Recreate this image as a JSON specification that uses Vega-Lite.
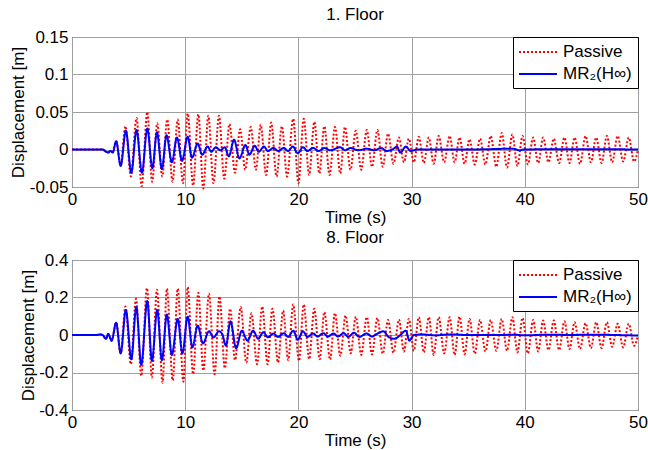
{
  "$schema": "https://vega.github.io/schema/vega-lite/v6.json",
  "padding": {"left": 9, "top": 5, "right": 0, "bottom": 0},
  "spacing": 2,
  "config": {
    "font": "Liberation Sans",
    "view": {"stroke": "black", "strokeWidth": 1},
    "axis": {"labelFontSize": 17, "titleFontSize": 17, "labelColor": "black", "titleColor": "black", "titleFontWeight": "normal", "grid": true, "gridColor": "#a0a0a0", "gridWidth": 1, "domain": false, "ticks": false, "labelFlush": false, "labelOverlap": false},
    "axisX": {"labelPadding": 4, "titlePadding": 2},
    "axisY": {"labelPadding": 4, "titlePadding": 1.5},
    "title": {"fontSize": 17, "fontWeight": "normal", "color": "black", "offset": 0},
    "legend": {"orient": "top-right", "offset": 0, "strokeColor": "black", "fillColor": "white", "padding": 6, "labelFontSize": 17, "labelColor": "black", "symbolType": "M-2.375,0L2.375,0", "symbolSize": 256, "symbolOffset": 10, "labelOffset": 16, "symbolStrokeWidth": 2, "rowPadding": 5, "cornerRadius": 0}
  },
  "resolve": {"legend": {"color": "independent", "strokeDash": "independent"}, "scale": {"y": "independent", "x": "independent"}},
  "vconcat": [
    {
      "width": 566, "height": 150,
      "title": "1. Floor",
      "data": {"values": [
        {"s":"Passive","t":0,"v":0},{"s":"Passive","t":2.6,"v":0},{"s":"Passive","t":3.0,"v":-0.002},{"s":"Passive","t":3.3,"v":-0.004},{"s":"Passive","t":3.6,"v":-0.002},{"s":"Passive","t":3.9,"v":0.011},{"s":"Passive","t":4.3,"v":-0.02},
        {"s":"Passive","t":4.72,"v":0.031},{"s":"Passive","t":5.2,"v":-0.036},{"s":"Passive","t":5.7,"v":0.042},{"s":"Passive","t":6.15,"v":-0.049},{"s":"Passive","t":6.65,"v":0.05},{"s":"Passive","t":7.08,"v":-0.043},{"s":"Passive","t":7.53,"v":0.035},{"s":"Passive","t":7.97,"v":-0.036},{"s":"Passive","t":8.41,"v":0.04},{"s":"Passive","t":8.88,"v":-0.043},{"s":"Passive","t":9.34,"v":0.04},{"s":"Passive","t":9.8,"v":-0.045},
        {"s":"Passive","t":10.22,"v":0.048},{"s":"Passive","t":10.7,"v":-0.048},{"s":"Passive","t":11.16,"v":0.047},{"s":"Passive","t":11.6,"v":-0.052},{"s":"Passive","t":12.04,"v":0.045},{"s":"Passive","t":12.5,"v":-0.045},{"s":"Passive","t":12.98,"v":0.045},{"s":"Passive","t":13.45,"v":-0.039},{"s":"Passive","t":13.91,"v":0.034},{"s":"Passive","t":14.4,"v":-0.031},{"s":"Passive","t":14.85,"v":0.027},{"s":"Passive","t":15.3,"v":-0.027},{"s":"Passive","t":15.79,"v":0.03},{"s":"Passive","t":16.25,"v":-0.027},{"s":"Passive","t":16.67,"v":0.033},{"s":"Passive","t":17.15,"v":-0.034},{"s":"Passive","t":17.6,"v":0.036},{"s":"Passive","t":18.07,"v":-0.036},{"s":"Passive","t":18.54,"v":0.031},{"s":"Passive","t":19.0,"v":-0.036},{"s":"Passive","t":19.54,"v":0.041},
        {"s":"Passive","t":20.0,"v":-0.045},{"s":"Passive","t":20.47,"v":0.041},{"s":"Passive","t":20.95,"v":-0.034},{"s":"Passive","t":21.41,"v":0.037},{"s":"Passive","t":21.85,"v":-0.032},{"s":"Passive","t":22.29,"v":0.031},{"s":"Passive","t":22.75,"v":-0.034},{"s":"Passive","t":23.23,"v":0.03},{"s":"Passive","t":23.7,"v":-0.032},{"s":"Passive","t":24.11,"v":0.03},{"s":"Passive","t":24.6,"v":-0.027},{"s":"Passive","t":25.07,"v":0.025},{"s":"Passive","t":25.55,"v":-0.027},{"s":"Passive","t":26.04,"v":0.026},{"s":"Passive","t":26.5,"v":-0.023},{"s":"Passive","t":26.98,"v":0.026},{"s":"Passive","t":27.45,"v":-0.023},{"s":"Passive","t":27.92,"v":0.021},{"s":"Passive","t":28.4,"v":-0.019},{"s":"Passive","t":28.88,"v":0.016},{"s":"Passive","t":29.32,"v":-0.017},{"s":"Passive","t":29.76,"v":0.0145},
        {"s":"Passive","t":30.2,"v":-0.017},{"s":"Passive","t":30.64,"v":0.017},{"s":"Passive","t":31.08,"v":-0.018},{"s":"Passive","t":31.52,"v":0.016},{"s":"Passive","t":31.95,"v":-0.019},{"s":"Passive","t":32.39,"v":0.018},{"s":"Passive","t":32.88,"v":-0.017},{"s":"Passive","t":33.36,"v":0.018},{"s":"Passive","t":33.8,"v":-0.017},{"s":"Passive","t":34.24,"v":0.016},{"s":"Passive","t":34.68,"v":-0.019},{"s":"Passive","t":35.12,"v":0.0136},{"s":"Passive","t":35.58,"v":-0.02},{"s":"Passive","t":36.05,"v":0.0145},{"s":"Passive","t":36.52,"v":-0.02},{"s":"Passive","t":36.99,"v":0.018},{"s":"Passive","t":37.48,"v":-0.023},{"s":"Passive","t":37.96,"v":0.022},{"s":"Passive","t":38.43,"v":-0.024},{"s":"Passive","t":38.9,"v":0.02},{"s":"Passive","t":39.35,"v":-0.022},{"s":"Passive","t":39.8,"v":0.018},
        {"s":"Passive","t":40.27,"v":-0.02},{"s":"Passive","t":40.74,"v":0.016},{"s":"Passive","t":41.18,"v":-0.018},{"s":"Passive","t":41.62,"v":0.016},{"s":"Passive","t":42.09,"v":-0.017},{"s":"Passive","t":42.56,"v":0.0145},{"s":"Passive","t":43.03,"v":-0.018},{"s":"Passive","t":43.5,"v":0.016},{"s":"Passive","t":43.95,"v":-0.018},{"s":"Passive","t":44.4,"v":0.016},{"s":"Passive","t":44.88,"v":-0.019},{"s":"Passive","t":45.37,"v":0.018},{"s":"Passive","t":45.84,"v":-0.017},{"s":"Passive","t":46.31,"v":0.016},{"s":"Passive","t":46.78,"v":-0.018},{"s":"Passive","t":47.25,"v":0.018},{"s":"Passive","t":47.72,"v":-0.017},{"s":"Passive","t":48.2,"v":0.018},{"s":"Passive","t":48.69,"v":-0.016},{"s":"Passive","t":49.18,"v":0.016},{"s":"Passive","t":49.65,"v":-0.016},{"s":"Passive","t":50,"v":0},
        {"s":"MR₂(H∞)","t":0,"v":0},{"s":"MR₂(H∞)","t":2.7,"v":0},{"s":"MR₂(H∞)","t":3.0,"v":-0.003},{"s":"MR₂(H∞)","t":3.2,"v":-0.004},{"s":"MR₂(H∞)","t":3.4,"v":-0.002},{"s":"MR₂(H∞)","t":3.6,"v":-0.004},{"s":"MR₂(H∞)","t":3.9,"v":0.011},{"s":"MR₂(H∞)","t":4.3,"v":-0.022},{"s":"MR₂(H∞)","t":4.76,"v":0.025},{"s":"MR₂(H∞)","t":5.24,"v":-0.031},{"s":"MR₂(H∞)","t":5.7,"v":0.026},{"s":"MR₂(H∞)","t":6.18,"v":-0.031},{"s":"MR₂(H∞)","t":6.65,"v":0.028},{"s":"MR₂(H∞)","t":7.1,"v":-0.025},{"s":"MR₂(H∞)","t":7.5,"v":0.023},{"s":"MR₂(H∞)","t":7.94,"v":-0.026},{"s":"MR₂(H∞)","t":8.35,"v":0.019},{"s":"MR₂(H∞)","t":8.82,"v":-0.017},{"s":"MR₂(H∞)","t":9.27,"v":0.016},{"s":"MR₂(H∞)","t":9.72,"v":-0.015},
        {"s":"MR₂(H∞)","t":10.22,"v":0.017},{"s":"MR₂(H∞)","t":10.6,"v":-0.011},{"s":"MR₂(H∞)","t":11.1,"v":0.008},{"s":"MR₂(H∞)","t":11.5,"v":-0.007},{"s":"MR₂(H∞)","t":11.98,"v":0.004},{"s":"MR₂(H∞)","t":12.3,"v":-0.003},{"s":"MR₂(H∞)","t":12.7,"v":0.003},{"s":"MR₂(H∞)","t":13.1,"v":-0.001},{"s":"MR₂(H∞)","t":13.5,"v":0.003},{"s":"MR₂(H∞)","t":13.85,"v":-0.009},{"s":"MR₂(H∞)","t":14.32,"v":0.013},{"s":"MR₂(H∞)","t":14.79,"v":-0.012},{"s":"MR₂(H∞)","t":15.32,"v":0.006},{"s":"MR₂(H∞)","t":15.67,"v":-0.007},{"s":"MR₂(H∞)","t":16.14,"v":0.005},{"s":"MR₂(H∞)","t":16.5,"v":-0.003},{"s":"MR₂(H∞)","t":16.96,"v":0.004},{"s":"MR₂(H∞)","t":17.3,"v":-0.002},{"s":"MR₂(H∞)","t":17.8,"v":0.002},{"s":"MR₂(H∞)","t":18.2,"v":-0.002},{"s":"MR₂(H∞)","t":18.7,"v":0.002},{"s":"MR₂(H∞)","t":19.1,"v":-0.002},{"s":"MR₂(H∞)","t":19.5,"v":0.004},{"s":"MR₂(H∞)","t":19.95,"v":-0.005},
        {"s":"MR₂(H∞)","t":20.4,"v":0.003},{"s":"MR₂(H∞)","t":20.8,"v":-0.002},{"s":"MR₂(H∞)","t":21.3,"v":0.002},{"s":"MR₂(H∞)","t":21.8,"v":-0.002},{"s":"MR₂(H∞)","t":22.3,"v":0.002},{"s":"MR₂(H∞)","t":22.8,"v":-0.001},{"s":"MR₂(H∞)","t":23.7,"v":0.003},{"s":"MR₂(H∞)","t":24.1,"v":-0.001},{"s":"MR₂(H∞)","t":24.6,"v":0.002},{"s":"MR₂(H∞)","t":25.3,"v":-0.001},{"s":"MR₂(H∞)","t":26.0,"v":0.001},{"s":"MR₂(H∞)","t":26.7,"v":-0.001},{"s":"MR₂(H∞)","t":27.3,"v":0.002},{"s":"MR₂(H∞)","t":27.8,"v":-0.002},{"s":"MR₂(H∞)","t":28.4,"v":0.001},{"s":"MR₂(H∞)","t":28.7,"v":0.004},{"s":"MR₂(H∞)","t":29.0,"v":-0.004},{"s":"MR₂(H∞)","t":29.5,"v":0.004},{"s":"MR₂(H∞)","t":29.9,"v":-0.002},{"s":"MR₂(H∞)","t":30.5,"v":0},{"s":"MR₂(H∞)","t":35,"v":0},{"s":"MR₂(H∞)","t":39,"v":0.001},{"s":"MR₂(H∞)","t":39.5,"v":-0.001},{"s":"MR₂(H∞)","t":40,"v":0},{"s":"MR₂(H∞)","t":45,"v":0.0005},{"s":"MR₂(H∞)","t":50,"v":0}
      ]},
      "encoding": {
        "x": {"field": "t", "type": "quantitative", "scale": {"domain": [0, 50], "nice": false}, "axis": {"title": "Time (s)", "values": [0, 10, 20, 30, 40, 50]}},
        "y": {"field": "v", "type": "quantitative", "scale": {"domain": [-0.05, 0.15], "nice": false}, "axis": {"title": "Displacement [m]", "values": [-0.05, 0, 0.05, 0.1, 0.15], "labelExpr": "datum.value < 0 ? '-' + format(-datum.value, '~g') : format(datum.value, '~g')"}},
        "color": {"field": "s", "type": "nominal", "scale": {"domain": ["Passive", "MR₂(H∞)"], "range": ["#ff0000", "#0000ff"]}, "legend": {"title": null}},
        "strokeDash": {"field": "s", "type": "nominal", "scale": {"domain": ["Passive", "MR₂(H∞)"], "range": [[2, 2], [1, 0]]}, "legend": {"title": null}}
      },
      "layer": [
        {"transform": [{"filter": "datum.s == 'Passive'"}], "mark": {"type": "line", "interpolate": "monotone", "strokeWidth": 2}},
        {"transform": [{"filter": "datum.s != 'Passive'"}], "mark": {"type": "line", "interpolate": "monotone", "strokeWidth": 2}}
      ]
    },
    {
      "width": 566, "height": 150,
      "title": "8. Floor",
      "data": {"values": [
        {"s":"Passive","t":0,"v":0},{"s":"Passive","t":2.2,"v":0},{"s":"Passive","t":2.4,"v":0.003},{"s":"Passive","t":2.7,"v":0},{"s":"Passive","t":3.0,"v":-0.02},{"s":"Passive","t":3.2,"v":0.005},{"s":"Passive","t":3.5,"v":-0.03},{"s":"Passive","t":3.9,"v":0.065},{"s":"Passive","t":4.3,"v":-0.098},
        {"s":"Passive","t":4.72,"v":0.152},{"s":"Passive","t":5.2,"v":-0.156},{"s":"Passive","t":5.65,"v":0.193},{"s":"Passive","t":6.12,"v":-0.218},{"s":"Passive","t":6.62,"v":0.25},{"s":"Passive","t":7.06,"v":-0.227},{"s":"Passive","t":7.5,"v":0.242},{"s":"Passive","t":8.0,"v":-0.254},{"s":"Passive","t":8.38,"v":0.247},{"s":"Passive","t":8.9,"v":-0.242},{"s":"Passive","t":9.34,"v":0.247},{"s":"Passive","t":9.84,"v":-0.249},
        {"s":"Passive","t":10.22,"v":0.256},{"s":"Passive","t":10.7,"v":-0.209},{"s":"Passive","t":11.16,"v":0.225},{"s":"Passive","t":11.6,"v":-0.19},{"s":"Passive","t":12.1,"v":0.22},{"s":"Passive","t":12.6,"v":-0.209},{"s":"Passive","t":13.03,"v":0.206},{"s":"Passive","t":13.5,"v":-0.177},{"s":"Passive","t":13.97,"v":0.14},{"s":"Passive","t":14.4,"v":-0.134},{"s":"Passive","t":14.9,"v":0.149},{"s":"Passive","t":15.4,"v":-0.147},{"s":"Passive","t":15.85,"v":0.116},{"s":"Passive","t":16.35,"v":-0.156},{"s":"Passive","t":16.8,"v":0.152},{"s":"Passive","t":17.28,"v":-0.156},{"s":"Passive","t":17.7,"v":0.14},{"s":"Passive","t":18.2,"v":-0.147},{"s":"Passive","t":18.65,"v":0.13},{"s":"Passive","t":19.1,"v":-0.134},{"s":"Passive","t":19.54,"v":0.163},
        {"s":"Passive","t":20.05,"v":-0.138},{"s":"Passive","t":20.47,"v":0.163},{"s":"Passive","t":20.95,"v":-0.129},{"s":"Passive","t":21.4,"v":0.14},{"s":"Passive","t":21.88,"v":-0.129},{"s":"Passive","t":22.29,"v":0.122},{"s":"Passive","t":22.8,"v":-0.131},{"s":"Passive","t":23.23,"v":0.116},{"s":"Passive","t":23.7,"v":-0.111},{"s":"Passive","t":24.17,"v":0.104},{"s":"Passive","t":24.62,"v":-0.098},{"s":"Passive","t":25.07,"v":0.098},{"s":"Passive","t":25.55,"v":-0.106},{"s":"Passive","t":26.04,"v":0.095},{"s":"Passive","t":26.5,"v":-0.104},{"s":"Passive","t":26.98,"v":0.091},{"s":"Passive","t":27.45,"v":-0.1},{"s":"Passive","t":27.92,"v":0.08},{"s":"Passive","t":28.4,"v":-0.095},{"s":"Passive","t":28.88,"v":0.082},{"s":"Passive","t":29.32,"v":-0.088},{"s":"Passive","t":29.76,"v":0.086},
        {"s":"Passive","t":30.2,"v":-0.084},{"s":"Passive","t":30.64,"v":0.095},{"s":"Passive","t":31.08,"v":-0.093},{"s":"Passive","t":31.52,"v":0.095},{"s":"Passive","t":31.95,"v":-0.106},{"s":"Passive","t":32.39,"v":0.095},{"s":"Passive","t":32.88,"v":-0.098},{"s":"Passive","t":33.36,"v":0.095},{"s":"Passive","t":33.8,"v":-0.106},{"s":"Passive","t":34.24,"v":0.098},{"s":"Passive","t":34.68,"v":-0.102},{"s":"Passive","t":35.12,"v":0.086},{"s":"Passive","t":35.58,"v":-0.1},{"s":"Passive","t":36.05,"v":0.08},{"s":"Passive","t":36.52,"v":-0.088},{"s":"Passive","t":36.99,"v":0.08},{"s":"Passive","t":37.48,"v":-0.084},{"s":"Passive","t":37.96,"v":0.086},{"s":"Passive","t":38.43,"v":-0.084},{"s":"Passive","t":38.9,"v":0.095},{"s":"Passive","t":39.35,"v":-0.093},{"s":"Passive","t":39.8,"v":0.091},
        {"s":"Passive","t":40.27,"v":-0.098},{"s":"Passive","t":40.74,"v":0.08},{"s":"Passive","t":41.18,"v":-0.088},{"s":"Passive","t":41.62,"v":0.077},{"s":"Passive","t":42.09,"v":-0.08},{"s":"Passive","t":42.56,"v":0.077},{"s":"Passive","t":43.03,"v":-0.08},{"s":"Passive","t":43.5,"v":0.073},{"s":"Passive","t":43.95,"v":-0.075},{"s":"Passive","t":44.4,"v":0.068},{"s":"Passive","t":44.88,"v":-0.075},{"s":"Passive","t":45.37,"v":0.063},{"s":"Passive","t":45.84,"v":-0.07},{"s":"Passive","t":46.31,"v":0.068},{"s":"Passive","t":46.78,"v":-0.07},{"s":"Passive","t":47.25,"v":0.068},{"s":"Passive","t":47.72,"v":-0.063},{"s":"Passive","t":48.2,"v":0.06},{"s":"Passive","t":48.69,"v":-0.066},{"s":"Passive","t":49.18,"v":0.06},{"s":"Passive","t":49.65,"v":-0.057},{"s":"Passive","t":50,"v":0},
        {"s":"MR₂(H∞)","t":0,"v":0},{"s":"MR₂(H∞)","t":2.2,"v":0},{"s":"MR₂(H∞)","t":2.4,"v":0.003},{"s":"MR₂(H∞)","t":2.7,"v":0},{"s":"MR₂(H∞)","t":3.0,"v":-0.02},{"s":"MR₂(H∞)","t":3.2,"v":0.005},{"s":"MR₂(H∞)","t":3.5,"v":-0.03},{"s":"MR₂(H∞)","t":3.9,"v":0.065},{"s":"MR₂(H∞)","t":4.3,"v":-0.098},{"s":"MR₂(H∞)","t":4.76,"v":0.134},{"s":"MR₂(H∞)","t":5.24,"v":-0.129},{"s":"MR₂(H∞)","t":5.68,"v":0.149},{"s":"MR₂(H∞)","t":6.12,"v":-0.159},{"s":"MR₂(H∞)","t":6.65,"v":0.181},{"s":"MR₂(H∞)","t":7.06,"v":-0.138},{"s":"MR₂(H∞)","t":7.53,"v":0.134},{"s":"MR₂(H∞)","t":7.94,"v":-0.134},{"s":"MR₂(H∞)","t":8.38,"v":0.109},{"s":"MR₂(H∞)","t":8.82,"v":-0.106},{"s":"MR₂(H∞)","t":9.34,"v":0.086},{"s":"MR₂(H∞)","t":9.75,"v":-0.098},
        {"s":"MR₂(H∞)","t":10.22,"v":0.098},{"s":"MR₂(H∞)","t":10.63,"v":-0.066},{"s":"MR₂(H∞)","t":11.1,"v":0.05},{"s":"MR₂(H∞)","t":11.57,"v":-0.045},{"s":"MR₂(H∞)","t":12.1,"v":0.02},{"s":"MR₂(H∞)","t":12.5,"v":-0.013},{"s":"MR₂(H∞)","t":12.98,"v":0.02},{"s":"MR₂(H∞)","t":13.3,"v":0},{"s":"MR₂(H∞)","t":13.6,"v":-0.057},{"s":"MR₂(H∞)","t":14.0,"v":0.073},{"s":"MR₂(H∞)","t":14.5,"v":-0.07},{"s":"MR₂(H∞)","t":15.0,"v":0.023},{"s":"MR₂(H∞)","t":15.5,"v":-0.03},{"s":"MR₂(H∞)","t":16.0,"v":0.023},{"s":"MR₂(H∞)","t":16.45,"v":-0.02},{"s":"MR₂(H∞)","t":16.9,"v":0.015},{"s":"MR₂(H∞)","t":17.3,"v":-0.012},{"s":"MR₂(H∞)","t":17.8,"v":0.008},{"s":"MR₂(H∞)","t":18.2,"v":-0.01},{"s":"MR₂(H∞)","t":18.7,"v":0.01},{"s":"MR₂(H∞)","t":19.1,"v":-0.01},{"s":"MR₂(H∞)","t":19.54,"v":0.023},{"s":"MR₂(H∞)","t":19.95,"v":-0.025},
        {"s":"MR₂(H∞)","t":20.4,"v":0.02},{"s":"MR₂(H∞)","t":20.8,"v":-0.01},{"s":"MR₂(H∞)","t":21.3,"v":0.008},{"s":"MR₂(H∞)","t":21.7,"v":-0.008},{"s":"MR₂(H∞)","t":22.2,"v":0.01},{"s":"MR₂(H∞)","t":22.6,"v":-0.008},{"s":"MR₂(H∞)","t":23.1,"v":0.008},{"s":"MR₂(H∞)","t":23.5,"v":-0.008},{"s":"MR₂(H∞)","t":24.0,"v":0.01},{"s":"MR₂(H∞)","t":24.4,"v":-0.01},{"s":"MR₂(H∞)","t":24.9,"v":0.012},{"s":"MR₂(H∞)","t":25.4,"v":-0.01},{"s":"MR₂(H∞)","t":26.0,"v":0.008},{"s":"MR₂(H∞)","t":26.5,"v":-0.008},{"s":"MR₂(H∞)","t":27.0,"v":0.008},{"s":"MR₂(H∞)","t":27.5,"v":0.02},{"s":"MR₂(H∞)","t":28.0,"v":-0.012},{"s":"MR₂(H∞)","t":28.5,"v":-0.02},{"s":"MR₂(H∞)","t":29.0,"v":0},{"s":"MR₂(H∞)","t":29.5,"v":0.023},{"s":"MR₂(H∞)","t":29.8,"v":-0.03},{"s":"MR₂(H∞)","t":30.2,"v":0},{"s":"MR₂(H∞)","t":31,"v":0.003},{"s":"MR₂(H∞)","t":32,"v":-0.002},{"s":"MR₂(H∞)","t":33.5,"v":0.003},{"s":"MR₂(H∞)","t":35,"v":0},{"s":"MR₂(H∞)","t":38,"v":0},{"s":"MR₂(H∞)","t":39,"v":0.002},{"s":"MR₂(H∞)","t":40,"v":-0.002},{"s":"MR₂(H∞)","t":42,"v":0.002},{"s":"MR₂(H∞)","t":44,"v":0},{"s":"MR₂(H∞)","t":46,"v":0.002},{"s":"MR₂(H∞)","t":48,"v":0},{"s":"MR₂(H∞)","t":50,"v":-0.003}
      ]},
      "encoding": {
        "x": {"field": "t", "type": "quantitative", "scale": {"domain": [0, 50], "nice": false}, "axis": {"title": "Time (s)", "values": [0, 10, 20, 30, 40, 50]}},
        "y": {"field": "v", "type": "quantitative", "scale": {"domain": [-0.4, 0.4], "nice": false}, "axis": {"title": "Displacement [m]", "values": [-0.4, -0.2, 0, 0.2, 0.4], "labelExpr": "datum.value < 0 ? '-' + format(-datum.value, '~g') : format(datum.value, '~g')"}},
        "color": {"field": "s", "type": "nominal", "scale": {"domain": ["Passive", "MR₂(H∞)"], "range": ["#ff0000", "#0000ff"]}, "legend": {"title": null}},
        "strokeDash": {"field": "s", "type": "nominal", "scale": {"domain": ["Passive", "MR₂(H∞)"], "range": [[2, 2], [1, 0]]}, "legend": {"title": null}}
      },
      "layer": [
        {"transform": [{"filter": "datum.s == 'Passive'"}], "mark": {"type": "line", "interpolate": "monotone", "strokeWidth": 2}},
        {"transform": [{"filter": "datum.s != 'Passive'"}], "mark": {"type": "line", "interpolate": "monotone", "strokeWidth": 2}}
      ]
    }
  ]
}
